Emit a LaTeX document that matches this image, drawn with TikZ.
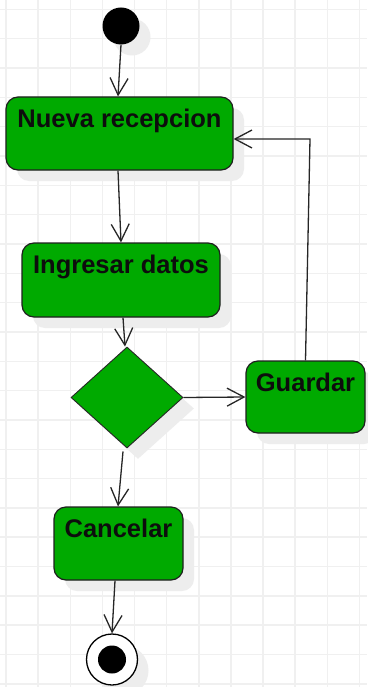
\documentclass[tikz,border=0pt]{standalone}
\usepackage{fontspec}
\setmainfont{Liberation Sans}
\usetikzlibrary{arrows.meta,shapes.geometric,shadows}
\definecolor{actgreen}{RGB}{0,170,0}
\definecolor{gridgray}{RGB}{240,240,240}
\definecolor{shadegray}{RGB}{237,237,237}
\definecolor{edgegray}{RGB}{38,38,38}
\begin{document}
\begin{tikzpicture}[x=1pt,y=-1pt,
  shade/.style={general shadow={shadow xshift=11pt,shadow yshift=-11pt,fill=shadegray}},
  act/.style={shade,draw=black!88,line width=1.2pt,fill=actgreen,rounded corners=12pt,
    inner xsep=0pt,inner ysep=0pt,text height=30.5pt,
    font=\bfseries\fontsize{25.5}{28}\selectfont,text=black!95},
  choice/.style={shade,diamond,draw=black!85,line width=0.9pt,fill=actgreen,
    inner sep=0pt,minimum width=112pt,minimum height=101pt},
  startdot/.style={shade,circle,fill=black,inner sep=0pt,minimum size=37pt},
  endring/.style={shade,circle,draw=black,line width=1.3pt,fill=white,inner sep=0pt,minimum size=51pt},
  enddot/.style={circle,fill=black,inner sep=0pt,minimum size=28pt},
  flow/.style={draw=edgegray,line width=1.3pt,-{Straight Barb[length=17pt,width=18pt,line width=1.3pt]}}]

% canvas and background grid
\fill[white] (0,0) rectangle (367,687);
\useasboundingbox (0,0) rectangle (367,687);
\foreach \k in {0,...,11} \draw[gridgray,line width=1.5pt] ({6+32.13*\k},0) -- ({6+32.13*\k},687);
\foreach \k in {0,...,23} \draw[gridgray,line width=1.5pt] (0,{9.3+29.33*\k}) -- (367,{9.3+29.33*\k});

% nodes
\node[startdot] (s) at (121,26) {};
\node[act,minimum width=227pt,text depth=42.5pt] (n) at (119.5,133.5) {Nueva recepcion};
\node[act,minimum width=198pt,text depth=43.5pt] (i) at (121,280) {Ingresar datos};
\node[choice] (d) at (127,397.5) {};
\node[act,minimum width=119pt,text depth=41.5pt] (g) at (305.5,397) {Guardar};
\node[act,minimum width=129pt,text depth=42.5pt] (c) at (118.5,543.5) {Cancelar};
\node[endring] (e) at (112,659.5) {};
\node[enddot] (ed) at (e.center) {};

% connectors
\coordinate (back) at (310,139);
\draw[flow] (s.south) -- ([xshift=-1.5pt]n.north);
\draw[flow] ([xshift=-1.5pt]n.south) -- (i.north);
\draw[flow] ([xshift=2pt]i.south) -- ([xshift=-2pt]d.north);
\draw[flow] (d.east) -- (g.west);
\draw[flow] ([xshift=-4pt,yshift=-3pt]d.south) -- ([xshift=-0.5pt]c.north);
\draw[flow] ([xshift=-3.5pt]c.south) -- (e.north);
\draw[flow] (g.north) -- (back) -- (back -| n.east);
\end{tikzpicture}
\end{document}
